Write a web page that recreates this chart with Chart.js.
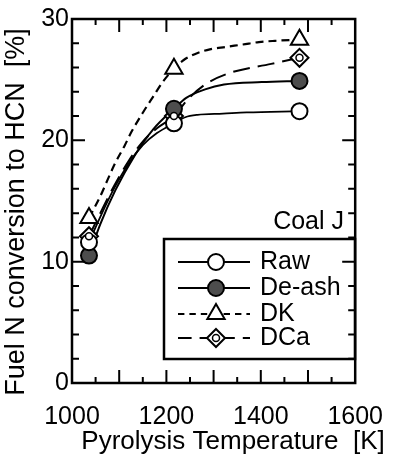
<!DOCTYPE html>
<html>
<head>
<meta charset="utf-8">
<script src="https://cdn.jsdelivr.net/npm/chart.js@4.4.1/dist/chart.umd.min.js"></script>
<style>
  html, body { margin: 0; padding: 0; background: #fff; }
</style>
</head>
<body>
<canvas id="hcnChart" width="402" height="463"></canvas>
<script>
// measured points (temperature in K, conversion in %)
const markerK = [1036, 1216, 1482];
const rawN = [11.6, 21.4, 22.4];
const deashN = [10.5, 22.6, 24.9];
const dkN = [13.6, 25.9, 28.3];
const dcaN = [12.1, 22.0, 26.8];

// smooth curves
const rawCurveK = [1036, 1060, 1090, 1120, 1150, 1180, 1216, 1240, 1266, 1320, 1370, 1482];
const rawCurveN = [11.6, 13.7, 16.1, 18.1, 19.6, 20.6, 21.4, 21.9, 22.1, 22.2, 22.3, 22.4];
const deashCurveK = [1036, 1060, 1092, 1132, 1172, 1216, 1242, 1282, 1322, 1402, 1482];
const deashCurveN = [10.5, 13.1, 15.9, 18.7, 20.9, 22.6, 23.5, 24.2, 24.6, 24.8, 24.9];
const dkCurveK = [1036, 1060, 1076, 1090, 1112, 1126, 1152, 1172, 1192, 1216, 1236, 1260, 1292, 1326, 1362, 1396, 1430, 1482];
const dkCurveN = [13.6, 15.4, 16.8, 18.0, 19.6, 20.7, 22.4, 23.6, 24.8, 25.9, 26.6, 27.1, 27.5, 27.7, 27.9, 28.1, 28.2, 28.3];
const dcaCurveK = [1036, 1060, 1090, 1120, 1150, 1180, 1216, 1246, 1282, 1330, 1422, 1482];
const dcaCurveN = [12.1, 14.0, 16.3, 18.3, 19.9, 21.0, 22.0, 23.4, 24.6, 25.5, 26.3, 26.8];

const seriesNames = ['Raw', 'De-ash', 'DK', 'DCa'];
const xTicks = [1000, 1200, 1400, 1600];
const yTicks = [0, 10, 20, 30];

const FONT = "'Liberation Sans', Arial, Helvetica, sans-serif";

const toXY = (xs, ys) => xs.map((v, i) => ({ x: v, y: ys[i] }));

const looks = [
    { pts: rawN, curveK: rawCurveK, curveN: rawCurveN, style: 'circle', r: 8, fill: '#fff', dash: [], width: 1.8 },
    { pts: deashN, curveK: deashCurveK, curveN: deashCurveN, style: 'circle', r: 8, fill: '#4d4d4d', dash: [], width: 2 },
    { pts: dkN, curveK: dkCurveK, curveN: dkCurveN, style: 'triangle', r: 10, fill: '#fff', dash: [8, 5], width: 2.2 },
    { pts: dcaN, curveK: dcaCurveK, curveN: dcaCurveN, style: 'rectRot', r: 9, fill: '#fff', dash: [17, 8], width: 2 }
];

const datasets = [];
looks.forEach((s, i) => {
    datasets.push({
        label: seriesNames[i],
        type: 'scatter',
        data: toXY(markerK, s.pts),
        showLine: false,
        pointStyle: s.style,
        pointRadius: s.r,
        pointBackgroundColor: s.fill,
        pointBorderColor: '#000',
        pointBorderWidth: 2,
        order: 0
    });
    datasets.push({
        label: seriesNames[i] + ' curve',
        type: 'line',
        data: toXY(s.curveK, s.curveN),
        borderColor: '#000',
        borderWidth: s.width,
        borderDash: s.dash,
        pointRadius: 0,
        cubicInterpolationMode: 'monotone',
        fill: false,
        order: 1
    });
});
// inner ring on the DCa diamonds
datasets.push({
    label: 'DCa inner',
    type: 'scatter',
    data: toXY(markerK, dcaN),
    pointStyle: 'circle',
    pointRadius: 3.5,
    pointBackgroundColor: '#fff',
    pointBorderColor: '#000',
    pointBorderWidth: 1.5,
    order: -1
});

function drawMarker(ctx, s, x, y) {
    ctx.save();
    ctx.fillStyle = s.fill;
    ctx.strokeStyle = '#000';
    ctx.lineWidth = 2;
    ctx.setLineDash([]);
    ctx.beginPath();
    if (s.style === 'circle') {
        ctx.arc(x, y, s.r, 0, Math.PI * 2);
    } else if (s.style === 'triangle') {
        for (let k = 0; k < 3; k++) {
            const a = k * 2 * Math.PI / 3;
            const px = x + Math.sin(a) * s.r, py = y - Math.cos(a) * s.r;
            k ? ctx.lineTo(px, py) : ctx.moveTo(px, py);
        }
        ctx.closePath();
    } else {
        ctx.moveTo(x, y - s.r); ctx.lineTo(x + s.r, y); ctx.lineTo(x, y + s.r); ctx.lineTo(x - s.r, y);
        ctx.closePath();
    }
    ctx.fill();
    ctx.stroke();
    if (s.style === 'rectRot') {
        ctx.beginPath();
        ctx.lineWidth = 1.5;
        ctx.fillStyle = '#fff';
        ctx.arc(x, y, 3.5, 0, Math.PI * 2);
        ctx.fill();
        ctx.stroke();
    }
    ctx.restore();
}

const framePlugin = {
    id: 'frame',
    afterDatasetsDraw(chart) {
        const { ctx, chartArea: a, scales: { x, y } } = chart;
        ctx.save();
        ctx.strokeStyle = '#000';
        ctx.lineWidth = 2;
        ctx.beginPath();
        for (let v = 1050; v < 1600; v += 50) {
            const px = x.getPixelForValue(v);
            const len = v % 100 === 0 ? 13 : 6;
            ctx.moveTo(px, a.bottom); ctx.lineTo(px, a.bottom - len);
            ctx.moveTo(px, a.top); ctx.lineTo(px, a.top + len);
        }
        for (let v = 2; v < 30; v += 2) {
            const py = y.getPixelForValue(v);
            const len = v % 10 === 0 ? 13 : 7;
            ctx.moveTo(a.left, py); ctx.lineTo(a.left + len, py);
            ctx.moveTo(a.right, py); ctx.lineTo(a.right - len, py);
        }
        ctx.stroke();
        ctx.lineWidth = 2.5;
        ctx.strokeRect(a.left, a.top, a.right - a.left, a.bottom - a.top);
        ctx.restore();
    },
    afterDraw(chart) {
        const ctx = chart.ctx;
        ctx.save();
        ctx.fillStyle = '#000';

        // axis titles
        ctx.font = '26px ' + FONT;
        ctx.textAlign = 'center';
        ctx.textBaseline = 'middle';
        ctx.fillText('Pyrolysis Temperature  [K]', 233, 442);
        ctx.save();
        ctx.translate(17, 212);
        ctx.rotate(-Math.PI / 2);
        ctx.font = '27px ' + FONT;
        ctx.fillText('Fuel N conversion to HCN  [%]', 0, 0);
        ctx.restore();

        ctx.font = '25px ' + FONT;
        ctx.textAlign = 'right';
        ctx.fillText('Coal J', 344, 222);

        // legend
        ctx.strokeStyle = '#000';
        ctx.lineWidth = 2.5;
        ctx.strokeRect(164, 239, 191, 120);
        const rows = [262, 288, 314, 338];
        looks.forEach((s, i) => {
            const yy = rows[i];
            ctx.save();
            ctx.lineWidth = s.width;
            ctx.setLineDash(s.dash.length ? [s.dash[0] * 0.8, s.dash[1]] : []);
            ctx.beginPath();
            ctx.moveTo(178, yy); ctx.lineTo(250, yy);
            ctx.stroke();
            ctx.restore();
            drawMarker(ctx, s, 216, yy);
            ctx.textAlign = 'left';
            ctx.textBaseline = 'middle';
            ctx.font = '25px ' + FONT;
            ctx.fillText(seriesNames[i], 260, yy);
        });
        ctx.restore();
    }
};

new Chart(document.getElementById('hcnChart'), {
    type: 'scatter',
    data: { datasets },
    options: {
        responsive: false,
        animation: false,
        layout: { padding: { top: 19, right: 29, left: 0, bottom: 0 } },
        plugins: { legend: { display: false }, tooltip: { enabled: false } },
        scales: {
            x: {
                type: 'linear', min: 1000, max: 1600,
                afterFit: (s) => { s.height = 80; },
                afterBuildTicks: (s) => { s.ticks = xTicks.map(v => ({ value: v })); },
                grid: { display: false, drawTicks: false },
                border: { display: false },
                ticks: { color: '#000', font: { family: FONT, size: 25 }, padding: 19, maxRotation: 0, callback: (v) => String(v) }
            },
            y: {
                type: 'linear', min: 0, max: 30,
                afterFit: (s) => { s.width = 72; },
                afterBuildTicks: (s) => { s.ticks = yTicks.map(v => ({ value: v })); },
                grid: { display: false, drawTicks: false },
                border: { display: false },
                ticks: { color: '#000', font: { family: FONT, size: 25 }, padding: 3, callback: (v) => String(v) }
            }
        }
    },
    plugins: [framePlugin]
});
</script>
</body>
</html>
